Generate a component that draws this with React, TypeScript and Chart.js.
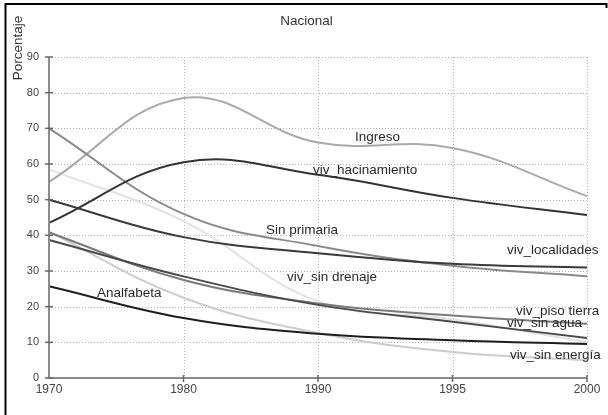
import React, { useEffect, useRef } from "react";
import { Chart, registerables } from "chart.js";

Chart.register(...registerables);

// ---- data ----
const years = ["1970", "1980", "1990", "1995", "2000"];
const yTickValues = [0, 10, 20, 30, 40, 50, 60, 70, 80, 90];

const analfabeta = [25.7, 16.8, 12.4, 10.6, 9.5];
const vivHacinamiento = [43.5, 60.5, 57, 50.5, 45.7];
const vivLocalidades = [50, 39.5, 35, 32, 31];
const vivSinAgua = [38.7, 28.5, 20.5, 15.8, 11.2];
const vivPisoTierra = [40.8, 27.5, 20.9, 17.5, 15.2];
const sinPrimaria = [70, 46, 37, 31.5, 28.5];
const ingreso = [55, 78.5, 66, 64.5, 51];
const vivSinEnergia = [41, 22.5, 12.6, 7.3, 5];
const vivSinDrenaje = [58.5, 44, 21.5, 16.5, 10];

// line labels, anchored in data space (category index, value)
const labelTexts = [
  "Ingreso",
  "viv_hacinamiento",
  "Sin primaria",
  "viv_localidades",
  "viv_sin drenaje",
  "Analfabeta",
  "viv_piso tierra",
  "viv_sin agua",
  "viv_sin energía",
];
const labelIndex = [2.275, 1.963, 1.613, 3.405, 1.77, 0.357, 3.472, 3.405, 3.427];
const labelValue = [67.6, 58.3, 41.5, 35.9, 28.3, 23.8, 18.8, 15.4, 6.4];

const titleText = "Nacional";
const yTitleText = "Porcentaje";

const FONT = '"Liberation Sans", Arial, sans-serif';

const decorPlugin = {
  id: "decor",
  beforeDatasetsDraw(chart: any) {
    const { ctx, chartArea } = chart;
    const xs = chart.scales.x;
    const ys = chart.scales.y;
    ctx.save();
    // dotted grid
    ctx.strokeStyle = "#b4b4b4";
    ctx.lineWidth = 1;
    ctx.setLineDash([1, 2]);
    yTickValues.forEach((v) => {
      if (v === 0) return;
      const y = Math.round(ys.getPixelForValue(v)) + 0.5;
      ctx.beginPath();
      ctx.moveTo(chartArea.left, y);
      ctx.lineTo(chartArea.right, y);
      ctx.stroke();
    });
    years.forEach((_, i) => {
      if (i === 0) return;
      const x = Math.round(xs.getPixelForValue(i)) + 0.5;
      ctx.beginPath();
      ctx.moveTo(x, chartArea.top);
      ctx.lineTo(x, chartArea.bottom);
      ctx.stroke();
    });
    ctx.setLineDash([]);
    ctx.restore();
  },
  afterDatasetsDraw(chart: any) {
    const { ctx, chartArea } = chart;
    const xs = chart.scales.x;
    const ys = chart.scales.y;
    ctx.save();
    // axes
    ctx.strokeStyle = "#8c8c8c";
    ctx.lineWidth = 2;
    ctx.beginPath();
    ctx.moveTo(chartArea.left, chartArea.top);
    ctx.lineTo(chartArea.left, chartArea.bottom);
    ctx.lineTo(chartArea.right, chartArea.bottom);
    ctx.stroke();
    // tick marks crossing the axes
    ctx.strokeStyle = "#666";
    ctx.lineWidth = 1.5;
    yTickValues.forEach((v) => {
      const y = ys.getPixelForValue(v);
      ctx.beginPath();
      ctx.moveTo(chartArea.left - 4, y);
      ctx.lineTo(chartArea.left + 4, y);
      ctx.stroke();
    });
    years.forEach((_, i) => {
      if (i === 0) return;
      const x = xs.getPixelForValue(i);
      ctx.beginPath();
      ctx.moveTo(x, chartArea.bottom - 3);
      ctx.lineTo(x, chartArea.bottom + 4);
      ctx.stroke();
    });
    // line labels
    ctx.fillStyle = "#2a2a2a";
    ctx.font = `13.5px ${FONT}`;
    ctx.textAlign = "left";
    ctx.textBaseline = "middle";
    labelTexts.forEach((t, i) => {
      ctx.fillText(t, xs.getPixelForValue(labelIndex[i]), ys.getPixelForValue(labelValue[i]));
    });
    ctx.restore();
  },
  afterDraw(chart: any) {
    const { ctx } = chart;
    ctx.save();
    // title
    ctx.fillStyle = "#333";
    ctx.font = `13.5px ${FONT}`;
    ctx.textAlign = "center";
    ctx.textBaseline = "middle";
    ctx.fillText(titleText, 306.5, 21);
    // y axis title
    ctx.translate(18.5, 48);
    ctx.rotate(-Math.PI / 2);
    ctx.fillText(yTitleText, 0, 0);
    ctx.restore();
    // frame
    ctx.save();
    ctx.strokeStyle = "#000";
    ctx.lineWidth = 2;
    ctx.beginPath();
    ctx.moveTo(5.5, 415);
    ctx.lineTo(5.5, 4);
    ctx.lineTo(606.5, 4);
    ctx.lineTo(606.5, 8);
    ctx.stroke();
    ctx.restore();
  },
};

function ds(label: string, data: number[], color: string) {
  return {
    label,
    data,
    borderColor: color,
    backgroundColor: color,
    borderWidth: 2,
    pointRadius: 0,
    pointHoverRadius: 0,
    tension: 0.4,
    fill: false,
  };
}

export default function App() {
  const ref = useRef<HTMLCanvasElement | null>(null);
  useEffect(() => {
    if (!ref.current) return;
    const chart = new Chart(ref.current, {
      type: "line",
      data: {
        labels: years,
        datasets: [
          ds("Analfabeta", analfabeta, "#1e1e1e"),
          ds("viv_hacinamiento", vivHacinamiento, "#333333"),
          ds("viv_localidades", vivLocalidades, "#3a3a3a"),
          ds("viv_sin agua", vivSinAgua, "#4a4a4a"),
          ds("viv_piso tierra", vivPisoTierra, "#7a7a7a"),
          ds("Sin primaria", sinPrimaria, "#8a8a8a"),
          ds("Ingreso", ingreso, "#aaaaaa"),
          ds("viv_sin energía", vivSinEnergia, "#cccccc"),
          ds("viv_sin drenaje", vivSinDrenaje, "#e2e2e2"),
        ],
      },
      options: {
        animation: false,
        responsive: false,
        devicePixelRatio: 1,
        layout: { padding: { top: 57, right: 21, left: 0, bottom: 0 } },
        plugins: {
          legend: { display: false },
          title: { display: false },
          tooltip: { enabled: false },
        },
        events: [],
        scales: {
          x: {
            type: "category",
            offset: false,
            grid: { display: false, drawTicks: false },
            border: { display: false },
            afterFit: (s: any) => {
              s.height = 37;
            },
            ticks: {
              color: "#444",
              font: { size: 12, family: FONT },
              padding: 4,
              maxRotation: 0,
              autoSkip: false,
            },
          },
          y: {
            min: 0,
            max: 90,
            grid: { display: false, drawTicks: false },
            border: { display: false },
            afterFit: (s: any) => {
              s.width = 49;
            },
            ticks: {
              stepSize: 10,
              color: "#444",
              font: { size: 11, family: FONT },
              padding: 10,
            },
          },
        },
      },
      plugins: [decorPlugin],
    });
    return () => chart.destroy();
  }, []);
  return (
    <div style={{ position: "fixed", left: 0, top: 0, width: 608, height: 415, background: "#fff" }}>
      <canvas ref={ref} width={608} height={415} style={{ width: 608, height: 415, display: "block" }} />
    </div>
  );
}
